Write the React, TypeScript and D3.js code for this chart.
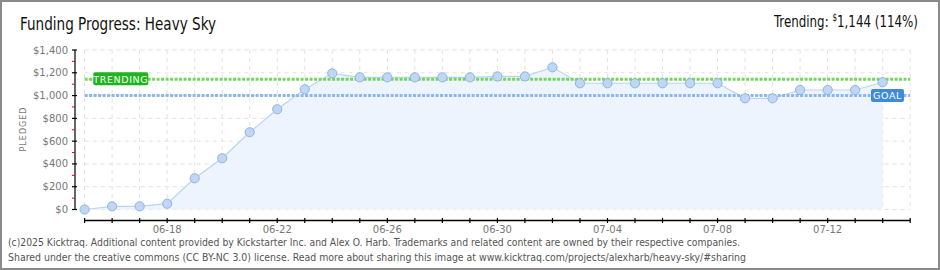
import * as d3 from 'd3';

const dates = [
  '06-15', '06-16', '06-17', '06-18', '06-19', '06-20', '06-21', '06-22', '06-23', '06-24',
  '06-25', '06-26', '06-27', '06-28', '06-29', '06-30', '07-01', '07-02', '07-03', '07-04',
  '07-05', '07-06', '07-07', '07-08', '07-09', '07-10', '07-11', '07-12', '07-13', '07-14',
];
const pledged = [
  0, 28, 28, 51, 274, 450, 678, 880, 1055, 1195,
  1160, 1160, 1160, 1160, 1160, 1168, 1168, 1248, 1108, 1108,
  1108, 1108, 1108, 1108, 976, 976, 1049, 1049, 1049, 1117,
];
const yTicks = [0, 200, 400, 600, 800, 1000, 1200, 1400];
const xLabels = ['06-18', '06-22', '06-26', '06-30', '07-04', '07-08', '07-12'];
const goal = 1000;
const trending = 1144;

const W = 940;
const H = 270;
const parse = (s: string) => new Date(Date.UTC(2025, +s.slice(0, 2) - 1, +s.slice(3)));
const fmtMoney = d3.format(',');

export default function App() {
  const x = d3.scaleUtc()
    .domain([parse('06-15'), parse('07-15')])
    .range([84.6, 910.2]);
  const y = d3.scaleLinear().domain([0, 1400]).range([209.5, 50]);

  const points = dates.map((d, i) => ({ date: parse(d), value: pledged[i] }));
  const days = d3.utcDay.range(parse('06-15'), d3.utcDay.offset(parse('07-15'), 1));
  const minor = d3.range(100, 1400, 200);

  const area = d3.area<{ date: Date; value: number }>()
    .x(d => x(d.date))
    .y0(y(0))
    .y1(d => y(d.value));
  const line = d3.line<{ date: Date; value: number }>()
    .x(d => x(d.date))
    .y(d => y(d.value));

  const x0 = x.range()[0];
  const x1 = x.range()[1];
  const axisY = 220.5;
  const labelFont = '"DejaVu Sans", sans-serif';
  const titleFont = '"Liberation Sans Narrow", "DejaVu Sans Condensed", sans-serif';
  const footFont = '"Liberation Sans Narrow", "DejaVu Sans Condensed", sans-serif';

  return (
    <div style={{ position: 'fixed', left: 0, top: 0 }}>
      <svg width={W} height={H} style={{ display: 'block', background: '#fff' }}>
        <rect x={1} y={1} width={W - 2} height={H - 2} fill="#fff" stroke="#8a8a8a" strokeWidth={2} />

        {/* title */}
        <text x={20} y={30} fontFamily={titleFont} fontSize={17} fill="#111"
          textLength={196} lengthAdjust="spacingAndGlyphs">Funding Progress: Heavy Sky</text>
        <g transform="translate(918,27) scale(0.8,1)">
          <text x={0} y={0} textAnchor="end" fontFamily={titleFont} fontSize={16.5} fill="#111">
            Trending: <tspan fontSize={10} baselineShift="super">$</tspan>
            <tspan>{fmtMoney(trending)} ({Math.round(trending / goal * 100)}%)</tspan>
          </text>
        </g>

        {/* grid */}
        <g stroke="#e2e2e2" strokeDasharray="4,4" strokeWidth={1}>
          {yTicks.map(t => (
            <line key={'h' + t} x1={x0} x2={x1} y1={y(t)} y2={y(t)} />
          ))}
          {days.map(d => (
            <line key={'v' + d.getTime()} x1={x(d)} x2={x(d)} y1={y(1400)} y2={y(0)} />
          ))}
        </g>

        {/* area + line */}
        <path d={area(points) ?? ''} fill="#edf4fd" />
        <path d={line(points) ?? ''} fill="none" stroke="#b9d5f2" strokeWidth={1.2} />

        {/* trending + goal */}
        <line x1={x0} x2={x1} y1={y(trending)} y2={y(trending)} stroke="#72d65c" strokeWidth={3} strokeDasharray="3,1.5" />
        <line x1={x0} x2={x1} y1={y(goal)} y2={y(goal)} stroke="#8db7e8" strokeWidth={3} strokeDasharray="3,1.5" />

        {/* points */}
        {points.map((p, i) => (
          <circle key={i} cx={x(p.date)} cy={y(p.value)} r={4.6}
            fill="#bdd7f5" stroke="#93b3da" strokeWidth={1} />
        ))}

        {/* badges */}
        <g>
          <rect x={93.3} y={y(trending) - 7} width={55} height={13} rx={2} fill="#1cb51c" />
          <text x={120.8} y={y(trending) + 3.5} textAnchor="middle" fontFamily={labelFont} fontSize={9.5}
            fill="#fff" letterSpacing={0.6}>TRENDING</text>
          <rect x={871} y={y(goal) - 6.5} width={33} height={13} rx={2} fill="#3e8bdc" />
          <text x={887.5} y={y(goal) + 3.8} textAnchor="middle" fontFamily={labelFont} fontSize={9.5}
            fill="#fff" letterSpacing={0.6}>GOAL</text>
        </g>

        {/* y axis */}
        <line x1={75} x2={75} y1={y(1400)} y2={y(0)} stroke="#000" strokeWidth={1.2} />
        {yTicks.map(t => (
          <g key={'yt' + t}>
            <line x1={72} x2={77} y1={y(t)} y2={y(t)} stroke="#000" strokeWidth={1.2} />
            <text x={68} y={y(t) + 3.5} textAnchor="end" fontFamily={labelFont} fontSize={10} fill="#777">
              ${fmtMoney(t)}
            </text>
          </g>
        ))}
        {minor.map(t => (
          <line key={'ym' + t} x1={72} x2={75} y1={y(t)} y2={y(t)} stroke="#e00" strokeWidth={1} />
        ))}
        <text transform={`translate(25.5,${129}) rotate(-90)`} textAnchor="middle" fontFamily={labelFont}
          fontSize={8} fill="#777" letterSpacing={1}>PLEDGED</text>

        {/* x axis */}
        <line x1={x0} x2={x1} y1={axisY} y2={axisY} stroke="#000" strokeWidth={1.5} />
        {days.map(d => (
          <line key={'xt' + d.getTime()} x1={x(d)} x2={x(d)} y1={axisY - 2.5} y2={axisY + 2.5} stroke="#000" strokeWidth={1.2} />
        ))}
        {xLabels.map(l => (
          <text key={'xl' + l} x={x(parse(l))} y={233} textAnchor="middle" fontFamily={labelFont}
            fontSize={10} fill="#777">{l}</text>
        ))}

        {/* footer */}
        <text x={8} y={245.5} fontFamily={footFont} fontSize={11} fill="#555"
          textLength={732} lengthAdjust="spacingAndGlyphs">
          (c)2025 Kicktraq. Additional content provided by Kickstarter Inc. and Alex O. Harb. Trademarks and related content are owned by their respective companies.
        </text>
        <text x={8} y={260.5} fontFamily={footFont} fontSize={11} fill="#555"
          textLength={738} lengthAdjust="spacingAndGlyphs">
          Shared under the creative commons (CC BY-NC 3.0) license. Read more about sharing this image at www.kicktraq.com/projects/alexharb/heavy-sky/#sharing
        </text>
      </svg>
    </div>
  );
}
